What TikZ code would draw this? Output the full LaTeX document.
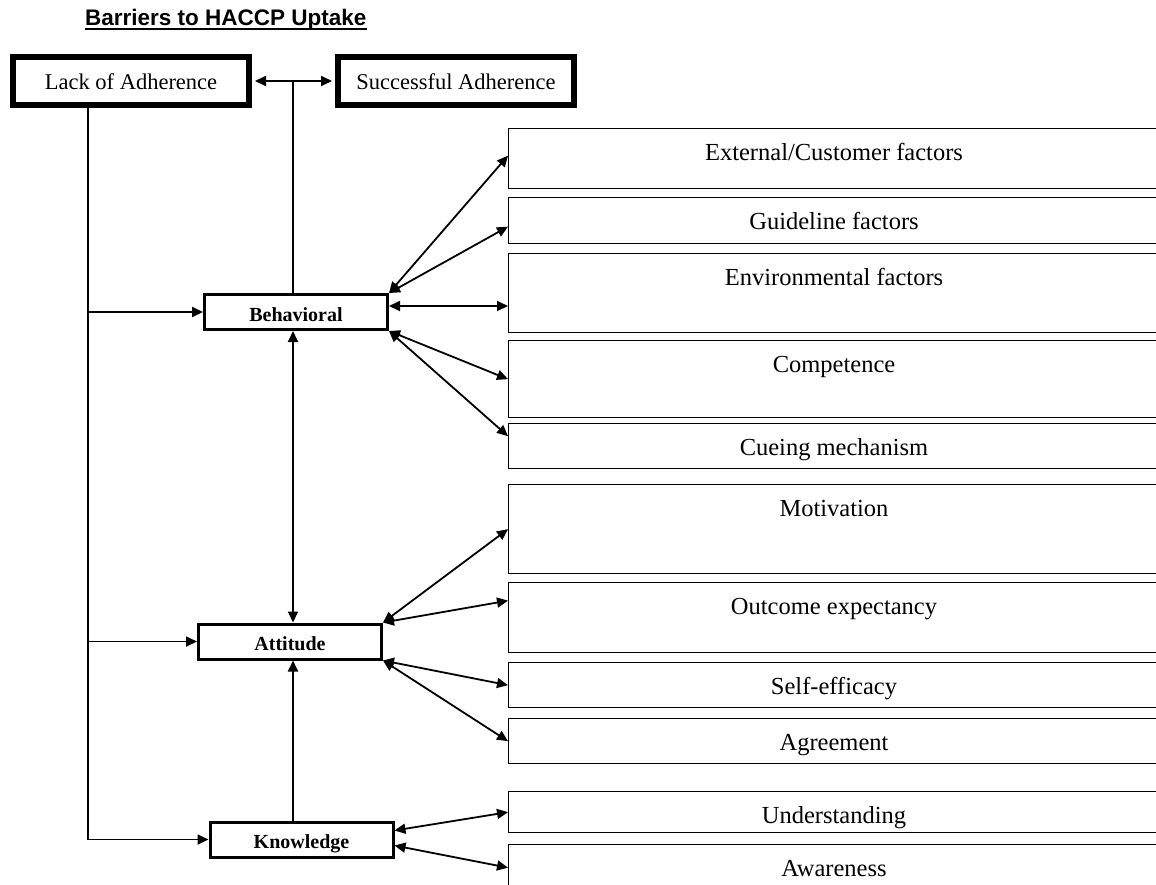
\documentclass[tikz,border=0pt]{standalone}
\usepackage{fontspec}
\setmainfont{Liberation Serif}
\setsansfont{Liberation Sans}
\usetikzlibrary{arrows.meta}

\begin{document}
\begin{tikzpicture}[x=1pt,y=-1pt,
		outcome/.style={draw,line width=6pt,minimum width=236pt,minimum height=48pt,inner sep=0pt,text height=16pt,text depth=0pt,font=\fontsize{22.5}{27}\selectfont},
		factor/.style={draw,line width=3pt,minimum width=183pt,minimum height=35pt,inner sep=0pt,text height=18pt,text depth=0pt,font=\fontsize{20}{24}\selectfont\bfseries},
		barrier/.style={draw,line width=1.3pt,anchor=north west,minimum width=680pt,inner sep=0pt},
		barriertext/.style={anchor=base,font=\fontsize{24.5}{29}\selectfont},
		link/.style={line width=1.8pt,{Triangle[length=11pt,width=10pt]}-{Triangle[length=11pt,width=10pt]}},
		feed/.style={line width=1.8pt,-{Triangle[length=11pt,width=10pt]}},
		trunkline/.style={line width=1.3pt}]
			\useasboundingbox (0,0) rectangle (1156,884);
			\clip (0,0) rectangle (1156,884);
			
			% draw title
			\node[anchor=base west,inner sep=0pt,font=\sffamily\bfseries\fontsize{22.5}{27}\selectfont] (title) at (85,25) {Barriers to HACCP Uptake};
			\draw[line width=1.8pt] ([yshift=-4pt]title.base west) -- ([yshift=-4pt]title.base east);
			
			% draw top boxes
			\node[outcome] (lack) at (131,81) {Lack of Adherence};
			\node[outcome] (succ) at (456,81) {Successful Adherence};
			
			% draw left boxes
			\node[factor] (beh) at (296,312) {Behavioral};
			\node[factor] (att) at (290,641.5) {Attitude};
			\node[factor] (kno) at (301.5,839.5) {Knowledge};
			
			% draw right boxes
			\node[barrier,minimum height=60pt] (ext) at (508,128) {};
			\node[barrier,minimum height=46pt] (gui) at (508,197) {};
			\node[barrier,minimum height=79pt] (env) at (508,253) {};
			\node[barrier,minimum height=77pt] (com) at (508,340) {};
			\node[barrier,minimum height=45pt] (cue) at (508,423) {};
			\node[barrier,minimum height=89pt] (mot) at (508,484) {};
			\node[barrier,minimum height=70pt] (out) at (508,582) {};
			\node[barrier,minimum height=45pt] (sel) at (508,662) {};
			\node[barrier,minimum height=45pt] (agr) at (508,718) {};
			\node[barrier,minimum height=41pt] (und) at (508,791) {};
			\node[barrier,minimum height=46pt] (awa) at (508,844) {};
			
			% right box labels
			\node[barriertext] (ext-t) at (834,160) {External/Customer factors};
			\node[barriertext] (gui-t) at (834,229) {Guideline factors};
			\node[barriertext] (env-t) at (834,285) {Environmental factors};
			\node[barriertext] (com-t) at (834,372) {Competence};
			\node[barriertext] (cue-t) at (834,455) {Cueing mechanism};
			\node[barriertext] (mot-t) at (834,516) {Motivation};
			\node[barriertext] (out-t) at (834,614) {Outcome expectancy};
			\node[barriertext] (sel-t) at (834,694) {Self-efficacy};
			\node[barriertext] (agr-t) at (834,750) {Agreement};
			\node[barriertext] (und-t) at (834,823) {Understanding};
			\node[barriertext] (awa-t) at (834,876) {Awareness};
			
			% draw top connector
			\coordinate (spine) at (293,0);
			\draw[link,shorten <=3pt,shorten >=3pt] (lack.east) -- (succ.west);
			\draw[trunkline] (spine |- lack.east) -- (spine |- beh.north);
			\draw[link] (spine |- beh.south) -- (spine |- att.north);
			\draw[feed] (spine |- kno.north) -- (spine |- att.south);
			
			% draw left trunk
			\coordinate (trunk) at ([xshift=78pt]lack.south west);
			\draw[trunkline] (trunk) -- (trunk |- kno.west);
			\draw[feed] (trunk |- beh.west) -- (beh.west);
			\draw[feed] (trunk |- att.west) -- (att.west);
			\draw[feed] (trunk |- kno.west) -- (kno.west);
			
			% draw links to barriers
			\draw[link] (beh.north east) -- ([yshift=3pt]ext.west);
			\draw[link] (beh.north east) -- ([yshift=-6pt]gui.west);
			\draw[link] ([yshift=6pt]beh.east) -- ([yshift=6pt]beh.east -| env.west);
			\draw[link] (beh.south east) -- (com.west);
			\draw[link] (beh.south east) -- ([yshift=10pt]cue.west);
			\draw[link] (att.north east) -- (mot.west);
			\draw[link] (att.north east) -- ([yshift=17pt]out.west);
			\draw[link] (att.south east) -- (sel.west);
			\draw[link] (att.south east) -- (agr.west);
			\draw[link] ([yshift=9pt]kno.east) -- (und.west);
			\draw[link] ([yshift=-6pt]kno.east) -- (awa.west);
		\end{tikzpicture}
\end{document}
